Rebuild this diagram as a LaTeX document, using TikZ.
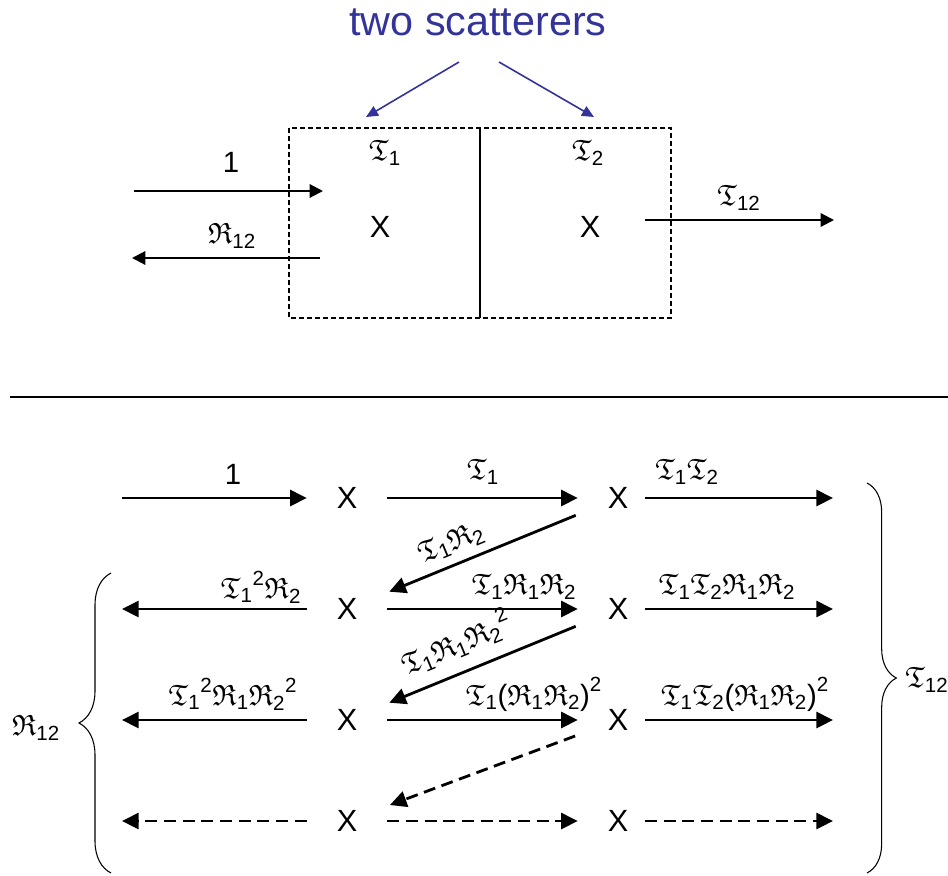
\documentclass[tikz,border=0pt]{standalone}
\usepackage{amsmath,amssymb}
\usepackage{fontspec}
\setmainfont{Liberation Sans}
\usetikzlibrary{arrows.meta,decorations.pathreplacing}
\definecolor{scatblue}{RGB}{51,51,153}
\newcommand{\Tfr}[1]{\mathfrak{T}_{\text{#1}}}
\newcommand{\Rfr}[1]{\mathfrak{R}_{\text{#1}}}
\tikzset{
  wave/.style={line width=1.6pt, -{Triangle[length=10pt,width=10pt]}},
  ray/.style={line width=2.1pt, -{Triangle[length=12.5pt,width=12pt]}},
  rayd/.style={ray, dash pattern=on 9pt off 5pt},
  diag/.style={shorten <=10pt, shorten >=10pt},
  pointer/.style={scatblue, line width=1.2pt, -{Triangle[length=9pt,width=8pt]}},
  cross/.style={inner sep=0pt, minimum width=60pt, minimum height=18pt, font=\fontsize{23}{27}\selectfont},
  lbl/.style={inner sep=0pt},
  curly/.style={line width=0.8pt, decorate},
}
\begin{document}
\begin{tikzpicture}[x=0.75pt, y=-0.75pt, font=\fontsize{22}{26}\selectfont]
\useasboundingbox (0,0) rectangle (948,875);

% top: the two scatterers
\node[lbl, text=scatblue, font=\fontsize{31}{36}\selectfont] (title) at (478,22) {two scatterers};
\coordinate (pa0) at (459,62);
\coordinate (pa1) at (366,117);
\coordinate (pb0) at (499,62);
\coordinate (pb1) at (594,117);
\draw[pointer] (pa0) -- (pa1);
\draw[pointer] (pb0) -- (pb1);

\draw[line width=0.8pt, dash pattern=on 3.5pt off 2.5pt] (289,128) rectangle (671,318);
\draw[line width=0.8pt] (480,128) -- (480,318);
\node[lbl] (t1) at (385,153) {$\Tfr{1}$};
\node[lbl] (t2) at (588,153) {$\Tfr{2}$};
\node[lbl, font=\fontsize{23}{27}\selectfont] (xa) at (380,227) {X};
\node[lbl, font=\fontsize{23}{27}\selectfont] (xb) at (590,227) {X};

\coordinate (in0) at (134,191);
\coordinate (in1) at (323,191);
\draw[wave] (in0) -- (in1);
\node[lbl] (one) at (231,162) {1};
\coordinate (re0) at (320,258);
\coordinate (re1) at (132,258);
\draw[wave] (re0) -- (re1);
\node[lbl] (r12) at (232,236) {$\Rfr{12}$};
\coordinate (tr0) at (645,220);
\coordinate (tr1) at (834,220);
\draw[wave] (tr0) -- (tr1);
\node[lbl] (t12) at (739,198) {$\Tfr{12}$};

\draw[line width=0.8pt] (10,397) -- (948,397);

% bottom: multiple reflections
\node[cross] (a1) at (347,498) {X};
\node[cross] (b1) at (618,498) {X};
\node[cross] (a2) at (347,609) {X};
\node[cross] (b2) at (618,609) {X};
\node[cross] (a3) at (347,720) {X};
\node[cross] (b3) at (618,720) {X};
\node[cross] (a4) at (347,821) {X};
\node[cross] (b4) at (618,821) {X};

\coordinate (l1) at (122,498);
\coordinate (l2) at (122,609);
\coordinate (l3) at (122,720);
\coordinate (l4) at (122,821);
\coordinate (r1) at (833,498);
\coordinate (r2) at (833,609);
\coordinate (r3) at (833,720);
\coordinate (r4) at (833,821);

\draw[ray] (l1) -- (a1.west);
\draw[ray] (a1.east) -- (b1.west);
\draw[ray] ([xshift=-10pt]b1.east) -- (r1);
\draw[ray, diag] (b1) -- (a2);
\draw[ray] (a2.west) -- (l2);
\draw[ray] (a2.east) -- (b2.west);
\draw[ray] ([xshift=-10pt]b2.east) -- (r2);
\draw[ray, diag] (b2) -- (a3);
\draw[ray] (a3.west) -- (l3);
\draw[ray] (a3.east) -- (b3.west);
\draw[ray] ([xshift=-10pt]b3.east) -- (r3);
\draw[rayd, shorten <=8pt, shorten >=8pt] (b3) -- (a4);
\draw[rayd] (a4.west) -- (l4);
\draw[rayd] (a4.east) -- (b4.west);
\draw[rayd] ([xshift=-10pt]b4.east) -- (r4);

\node[lbl] (n1) at (233,474) {1};
\node[lbl] (n2) at (483,472) {$\Tfr{1}$};
\node[lbl] (n3) at (687,472) {$\Tfr{1}\Tfr{2}$};
\node[lbl, rotate=22.5] (n4) at (451,543) {$\Tfr{1}\Rfr{2}$};
\node[lbl] (n5) at (261,587) {${\Tfr{1}}^{\text{2}}\Rfr{2}$};
\node[lbl] (n6) at (524,587) {$\Tfr{1}\Rfr{1}\Rfr{2}$};
\node[lbl] (n7) at (727,587) {$\Tfr{1}\Tfr{2}\Rfr{1}\Rfr{2}$};
\node[lbl, rotate=22.5] (n8) at (456,643) {$\Tfr{1}\Rfr{1}{\Rfr{2}}^{\text{2}}$};
\node[lbl] (n9) at (233,694) {${\Tfr{1}}^{\text{2}}\Rfr{1}{\Rfr{2}}^{\text{2}}$};
\node[lbl] (n10) at (534,694) {$\Tfr{1}\text{(}\Rfr{1}\Rfr{2}\text{)}^{\text{2}}$};
\node[lbl] (n11) at (745,694) {$\Tfr{1}\Tfr{2}\text{(}\Rfr{1}\Rfr{2}\text{)}^{\text{2}}$};

% sums
\draw[curly, decoration={brace, amplitude=24pt}] (111,873) -- (111,573);
\node[lbl] (rsum) at (36,728) {$\Rfr{12}$};
\draw[curly, decoration={brace, amplitude=22pt}] (867,483) -- (867,873);
\node[lbl, anchor=west] (tsum) at (905,680) {$\Tfr{12}$};
\end{tikzpicture}
\end{document}
